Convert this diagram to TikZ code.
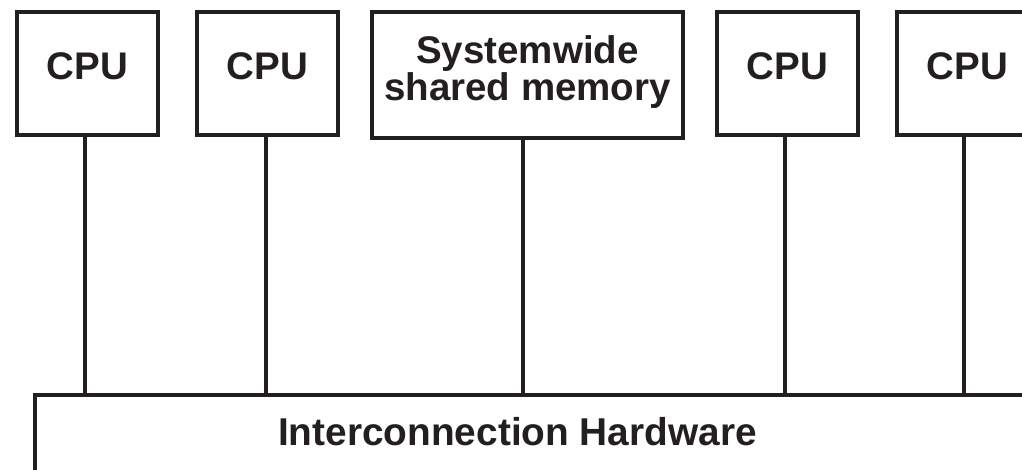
\documentclass[tikz,border=0pt]{standalone}
\usepackage{fontspec}
\setmainfont{Liberation Sans}
\definecolor{ink}{HTML}{231F20}
\begin{document}
\begin{tikzpicture}[x=1pt,y=-1pt,
  box/.style={draw=ink, line width=4pt, rectangle, inner sep=0pt, outer sep=0pt,
    font=\bfseries\fontsize{38.5}{37}\selectfont, text=ink},
  cpubox/.style={box, minimum width=141pt, minimum height=123pt, text height=28pt, text depth=16pt},
  wire/.style={draw=ink, line width=4pt},
  lbl/.style={inner sep=0pt, font=\bfseries\fontsize{38.8}{37}\selectfont, text=ink}]
\useasboundingbox (0,0) rectangle (1022,469);
\clip (0,0) rectangle (1022,469);
\node[cpubox] (c1) at (87.5,73.5) {CPU};
\node[cpubox] (c2) at (267.5,73.5) {CPU};
\node[box, minimum width=311pt, minimum height=126pt, align=center, text height=65pt, text depth=15pt] (mem) at (527.5,75) {Systemwide\\shared memory};
\node[cpubox] (c3) at (787.5,73.5) {CPU};
\node[cpubox] (c4) at (967.5,73.5) {CPU};
\node[box, minimum width=1025pt, minimum height=150pt] (ic) at (547.5,470) {};
\node[lbl, anchor=base] (ictext) at (517.5,445) {Interconnection Hardware};
\draw[wire] ([xshift=-2.5pt]c1.south) -- ([xshift=-2.5pt]c1.south |- ic.north);
\draw[wire] ([xshift=-1.5pt]c2.south) -- ([xshift=-1.5pt]c2.south |- ic.north);
\draw[wire] ([xshift=-4.5pt]mem.south) -- ([xshift=-4.5pt]mem.south |- ic.north);
\draw[wire] ([xshift=-2.5pt]c3.south) -- ([xshift=-2.5pt]c3.south |- ic.north);
\draw[wire] ([xshift=-3.5pt]c4.south) -- ([xshift=-3.5pt]c4.south |- ic.north);
\end{tikzpicture}
\end{document}
